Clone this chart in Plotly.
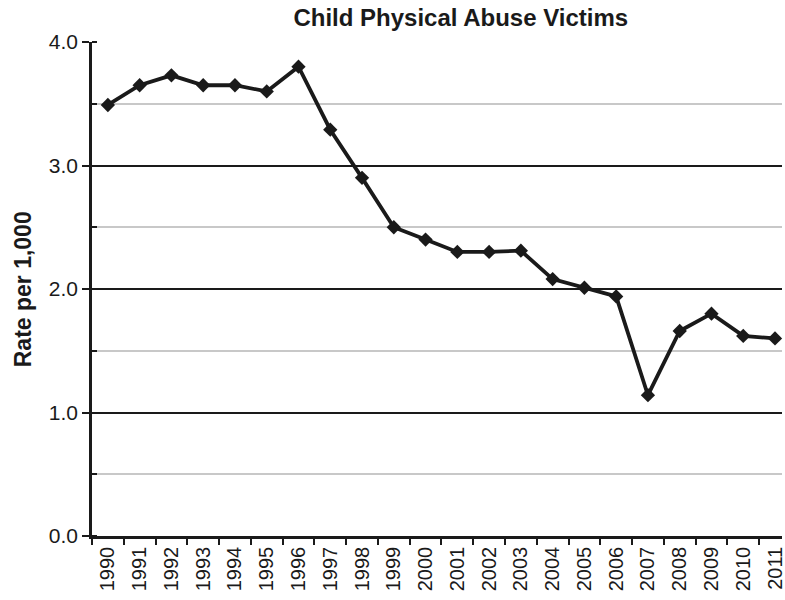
import plotly.graph_objects as go

# Child physical abuse victims, rate per 1,000 children
years = [str(y) for y in range(1990, 2012)]
rates = [3.49, 3.65, 3.73, 3.65, 3.65, 3.60, 3.80, 3.29, 2.90, 2.50, 2.40,
         2.30, 2.30, 2.31, 2.08, 2.01, 1.94, 1.14, 1.66, 1.80, 1.62, 1.60]
y_tick_vals = [0, 1, 2, 3, 4]
y_tick_text = ["0.0", "1.0", "2.0", "3.0", "4.0"]

FONT = "Liberation Sans, Arial, Helvetica, sans-serif"
INK = "#1a1a1a"

fig = go.Figure()
fig.add_trace(go.Scatter(
    x=years, y=rates, mode="lines+markers",
    line=dict(color=INK, width=3.8),
    marker=dict(symbol="diamond", size=11, color=INK),
    showlegend=False, cliponaxis=False,
))

fig.update_layout(
    width=785, height=600,
    margin=dict(l=92, r=0, t=42, b=64),
    paper_bgcolor="white", plot_bgcolor="white",
    font=dict(family=FONT, color=INK),
    title=dict(text="<b>Child Physical Abuse Victims</b>",
               x=0.587, xanchor="center", y=0.985, yanchor="top",
               font=dict(size=24, family=FONT, color=INK)),
    annotations=[dict(
        text="<b>Rate per 1,000</b>", textangle=-90,
        xref="paper", yref="paper", x=-0.0996, y=0.5,
        xanchor="center", yanchor="middle", showarrow=False,
        font=dict(size=23, family=FONT, color=INK),
    )],
)

fig.update_xaxes(
    type="category", range=[-0.5, 21.22],
    tickson="boundaries", ticks="outside", ticklen=6, tickwidth=2,
    tickcolor=INK, tickangle=-90,
    tickfont=dict(size=20, family=FONT, color=INK),
    showgrid=False, showline=True, linecolor=INK, linewidth=2.5,
    zeroline=False,
)

fig.update_yaxes(
    range=[0, 4], tickvals=y_tick_vals, ticktext=y_tick_text,
    ticks="outside", ticklen=7, tickwidth=2, tickcolor=INK,
    tickfont=dict(size=21, family=FONT, color=INK),
    showgrid=True, gridcolor=INK, gridwidth=2,
    minor=dict(dtick=0.5, showgrid=True, gridcolor="#c8c8c8", gridwidth=2,
               ticks="inside", ticklen=5, tickcolor=INK, tickwidth=1.5),
    showline=True, linecolor=INK, linewidth=2.5, zeroline=False,
)

fig.write_html("out.html")
